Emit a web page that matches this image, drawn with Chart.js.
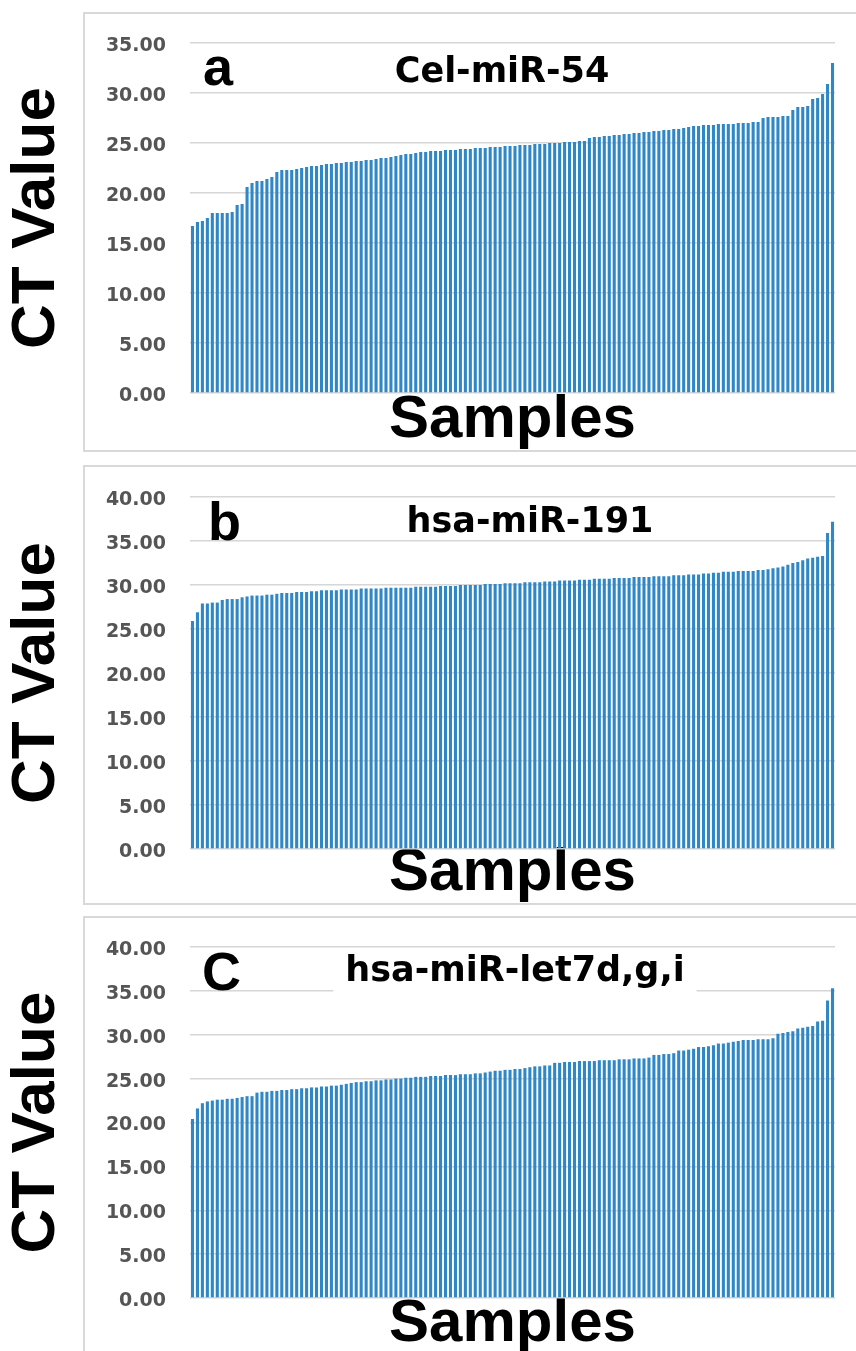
<!DOCTYPE html>
<html>
<head>
<meta charset="utf-8">
<title>CT Value</title>
<script src="https://cdn.jsdelivr.net/npm/chart.js@4.4.0/dist/chart.umd.min.js"></script>
<style>
  html, body { margin: 0; padding: 0; background: #fff; overflow: hidden; }
  body { width: 856px; height: 1351px; position: relative; }
  canvas { position: absolute; left: 0; }
</style>
</head>
<body>
<canvas id="graficoA" width="856" height="452" style="top:0px"></canvas>
<canvas id="graficoB" width="856" height="452" style="top:453px"></canvas>
<canvas id="graficoC" width="856" height="452" style="top:904px"></canvas>
<script>
// Valores de CT (ordenados, 130 amostras por painel)
const celMiR54 = [
  16.7, 17.1, 17.2, 17.5, 18.0, 18.0, 18.0, 18.0, 18.1, 18.8,
  18.9, 20.6, 21.0, 21.2, 21.2, 21.4, 21.6, 22.1, 22.3, 22.3,
  22.3, 22.4, 22.5, 22.6, 22.7, 22.7, 22.8, 22.9, 22.9, 23.0,
  23.0, 23.1, 23.1, 23.2, 23.2, 23.3, 23.3, 23.4, 23.5, 23.5,
  23.6, 23.7, 23.8, 23.9, 23.9, 24.0, 24.1, 24.1, 24.2, 24.2,
  24.2, 24.3, 24.3, 24.3, 24.4, 24.4, 24.4, 24.5, 24.5, 24.5,
  24.6, 24.6, 24.6, 24.7, 24.7, 24.7, 24.8, 24.8, 24.8, 24.9,
  24.9, 24.9, 25.0, 25.0, 25.0, 25.1, 25.1, 25.1, 25.2, 25.2,
  25.5, 25.6, 25.6, 25.7, 25.7, 25.8, 25.8, 25.9, 25.9, 26.0,
  26.0, 26.1, 26.1, 26.2, 26.2, 26.3, 26.3, 26.4, 26.4, 26.5,
  26.6, 26.7, 26.7, 26.8, 26.8, 26.8, 26.9, 26.9, 26.9, 26.9,
  27.0, 27.0, 27.0, 27.1, 27.1, 27.5, 27.6, 27.6, 27.6, 27.7,
  27.7, 28.3, 28.6, 28.6, 28.7, 29.4, 29.5, 29.9, 30.9, 33.0
];
const hsaMiR191 = [
  25.9, 26.9, 27.9, 27.9, 28.0, 28.0, 28.3, 28.4, 28.4, 28.4,
  28.6, 28.7, 28.8, 28.8, 28.8, 28.9, 28.9, 29.0, 29.1, 29.1,
  29.1, 29.2, 29.2, 29.2, 29.3, 29.3, 29.4, 29.4, 29.4, 29.4,
  29.5, 29.5, 29.5, 29.5, 29.6, 29.6, 29.6, 29.6, 29.6, 29.7,
  29.7, 29.7, 29.7, 29.7, 29.7, 29.8, 29.8, 29.8, 29.8, 29.8,
  29.9, 29.9, 29.9, 29.9, 30.0, 30.0, 30.0, 30.0, 30.0, 30.1,
  30.1, 30.1, 30.1, 30.2, 30.2, 30.2, 30.2, 30.3, 30.3, 30.3,
  30.3, 30.4, 30.4, 30.4, 30.5, 30.5, 30.5, 30.5, 30.6, 30.6,
  30.6, 30.7, 30.7, 30.7, 30.7, 30.8, 30.8, 30.8, 30.8, 30.9,
  30.9, 30.9, 30.9, 31.0, 31.0, 31.0, 31.0, 31.1, 31.1, 31.1,
  31.2, 31.2, 31.2, 31.3, 31.3, 31.4, 31.4, 31.5, 31.5, 31.5,
  31.6, 31.6, 31.6, 31.6, 31.7, 31.7, 31.8, 31.9, 32.0, 32.1,
  32.3, 32.5, 32.6, 32.8, 33.0, 33.1, 33.2, 33.3, 35.9, 37.2
];
const hsaMiRLet7dgi = [
  20.4, 21.6, 22.2, 22.4, 22.5, 22.6, 22.6, 22.7, 22.7, 22.8,
  22.9, 23.0, 23.0, 23.4, 23.5, 23.5, 23.6, 23.6, 23.7, 23.7,
  23.8, 23.8, 23.9, 23.9, 24.0, 24.0, 24.1, 24.1, 24.2, 24.2,
  24.3, 24.4, 24.5, 24.6, 24.6, 24.7, 24.7, 24.8, 24.8, 24.9,
  24.9, 25.0, 25.0, 25.1, 25.1, 25.2, 25.2, 25.2, 25.3, 25.3,
  25.3, 25.4, 25.4, 25.4, 25.5, 25.5, 25.5, 25.6, 25.6, 25.7,
  25.8, 25.9, 25.9, 26.0, 26.0, 26.1, 26.1, 26.2, 26.3, 26.4,
  26.4, 26.5, 26.5, 26.8, 26.8, 26.9, 26.9, 26.9, 27.0, 27.0,
  27.0, 27.0, 27.1, 27.1, 27.1, 27.1, 27.2, 27.2, 27.2, 27.3,
  27.3, 27.3, 27.4, 27.7, 27.7, 27.8, 27.8, 27.9, 28.2, 28.2,
  28.3, 28.4, 28.6, 28.6, 28.7, 28.8, 29.0, 29.0, 29.1, 29.2,
  29.3, 29.4, 29.4, 29.4, 29.5, 29.5, 29.5, 29.6, 30.1, 30.2,
  30.3, 30.4, 30.7, 30.8, 30.9, 31.0, 31.5, 31.6, 33.9, 35.3
];

const amostras = celMiR54.map((_, i) => 'Amostra ' + (i + 1)); // categorias do eixo X
const titulosPaineis = ['Cel-miR-54', 'hsa-miR-191', 'hsa-miR-let7d,g,i'];
const letrasPaineis = ['a', 'b', 'C'];
const maximosY = [35, 40, 40];
const passoY = 5;

const corBarra = '#2f87c7';
const fonteGrande = "'Liberation Sans', Arial, sans-serif";
const fonteTicks = "'DejaVu Sans', sans-serif";

// Moldura cinza, letra do painel e título com fundo branco
const decoracao = {
  id: 'decoracao',
  beforeDraw(chart) {
    const ctx = chart.ctx;
    ctx.save();
    ctx.strokeStyle = '#d9d9d9';
    ctx.lineWidth = 2;
    ctx.strokeRect(84, 13, 800, 438);
    ctx.restore();
  },
  afterDatasetsDraw(chart, args, opts) {
    const ctx = chart.ctx;
    ctx.save();
    ctx.font = 'bold 35px ' + fonteTicks;
    const w = ctx.measureText(opts.titulo).width;
    ctx.fillStyle = '#fff';
    ctx.fillRect(opts.tituloX - w / 2 - 12, opts.tituloBase - 31, w + 24, 31 + opts.folga);
    ctx.fillStyle = '#000';
    ctx.textAlign = 'center';
    ctx.textBaseline = 'alphabetic';
    ctx.fillText(opts.titulo, opts.tituloX, opts.tituloBase);
    ctx.font = 'bold 54px ' + fonteGrande;
    ctx.textAlign = 'left';
    ctx.fillText(opts.letra, opts.letraX, opts.letraBase);
    ctx.restore();
  }
};

function criarGrafico(id, valores, yMax, topo, alturaX, decor) {
  return new Chart(document.getElementById(id), {
    type: 'bar',
    data: {
      labels: amostras,
      datasets: [{
        data: valores,
        backgroundColor: corBarra,
        borderWidth: 0,
        barPercentage: 0.62,
        categoryPercentage: 1
      }]
    },
    options: {
      responsive: false,
      animation: false,
      devicePixelRatio: 1,
      layout: { padding: { top: topo, right: 21, left: 0, bottom: 0 } },
      plugins: {
        legend: { display: false },
        tooltip: { enabled: false },
        decoracao: decor
      },
      scales: {
        x: {
          grid: { display: false },
          border: { display: false },
          ticks: { display: false },
          title: {
            display: true, text: 'Samples', color: '#000', padding: 0,
            font: { family: fonteGrande, size: 60, weight: 'bold', lineHeight: 1.05 }
          },
          afterFit: s => { s.height = alturaX; }
        },
        y: {
          min: 0,
          max: yMax,
          grid: { color: '#d6d6d6', lineWidth: 1.5, drawTicks: false },
          border: { display: false },
          ticks: {
            stepSize: passoY,
            padding: 24,
            labelOffset: 3,
            color: '#555555',
            font: { family: fonteTicks, size: 19, weight: 'bold' },
            callback: v => Number(v).toFixed(2)
          },
          title: {
            display: true, text: 'CT Value', color: '#000', padding: 0,
            font: { family: fonteGrande, size: 62, weight: 'bold' }
          },
          afterFit: s => { s.width = 190; }
        }
      }
    },
    plugins: [decoracao]
  });
}

criarGrafico('graficoA', celMiR54, maximosY[0], 43, 59,
  { titulo: titulosPaineis[0], tituloX: 502, tituloBase: 82, folga: 6, letra: letrasPaineis[0], letraX: 203, letraBase: 85 });
criarGrafico('graficoB', hsaMiR191, maximosY[1], 44, 56,
  { titulo: titulosPaineis[1], tituloX: 530, tituloBase: 79, folga: 5, letra: letrasPaineis[1], letraX: 208, letraBase: 87 });
criarGrafico('graficoC', hsaMiRLet7dgi, maximosY[2], 43, 58,
  { titulo: titulosPaineis[2], tituloX: 515, tituloBase: 77, folga: 13, letra: letrasPaineis[2], letraX: 202, letraBase: 86 });
</script>
</body>
</html>
